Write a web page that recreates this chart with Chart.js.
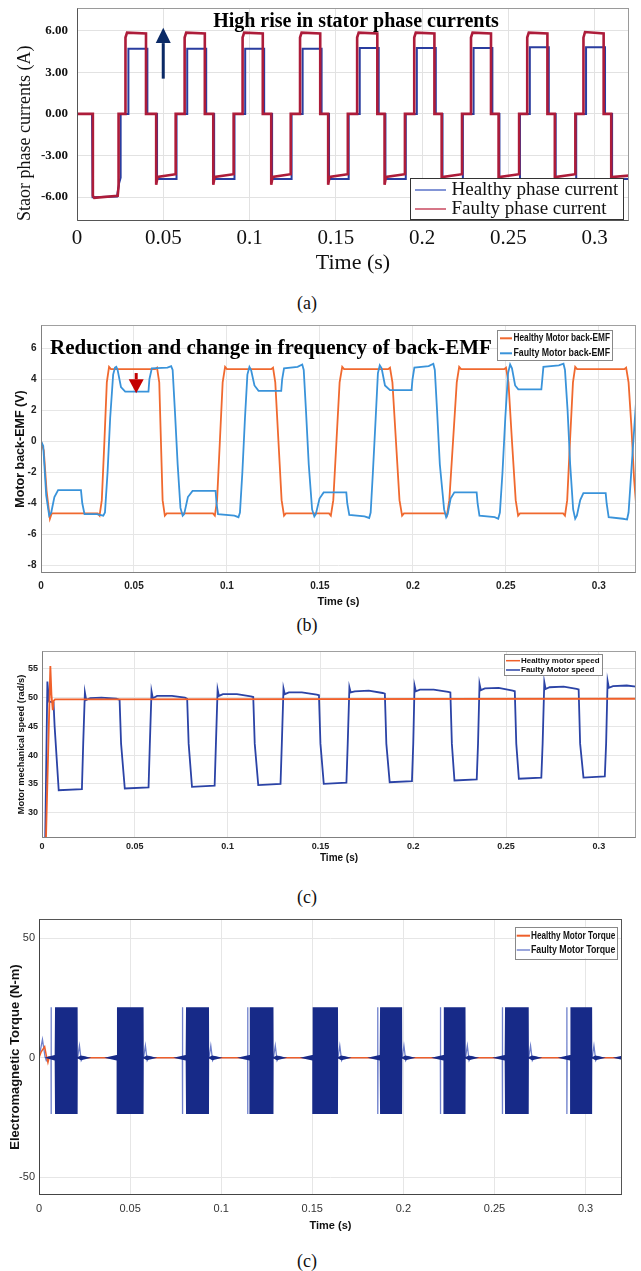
<!DOCTYPE html>
<html>
<head>
<meta charset="utf-8">
<title>Healthy vs faulty motor: current, back-EMF, speed, torque</title>
<script src="https://cdn.jsdelivr.net/npm/chart.js@4.4.1/dist/chart.umd.min.js"></script>
<style>
  html, body { margin: 0; padding: 0; background: #fff; }
  #page { position: relative; width: 641px; height: 1271px; overflow: hidden; background: #fff; }
  #page canvas { position: absolute; left: 0; }
  .caption { position: absolute; left: 267px; width: 80px; text-align: center; line-height: 20px;
             font: 18px 'Liberation Serif', 'Times New Roman', serif; color: #111; }
</style>
</head>
<body>
<div id="page">
  <canvas id="chartA" width="641" height="285" style="top:0px"></canvas>
  <div class="caption" style="top:293px">(a)</div>
  <canvas id="chartB" width="641" height="300" style="top:315px"></canvas>
  <div class="caption" style="top:615px">(b)</div>
  <canvas id="chartC" width="641" height="225" style="top:645px"></canvas>
  <div class="caption" style="top:887px">(c)</div>
  <canvas id="chartD" width="641" height="330" style="top:905px"></canvas>
  <div class="caption" style="top:1251px">(c)</div>
</div>
<script>
// ---------------- Data ----------------

const X_TICKS = [0, 0.05, 0.1, 0.15, 0.2, 0.25, 0.3];
const X_TICK_LABELS = ['0', '0.05', '0.1', '0.15', '0.2', '0.25', '0.3'];

// (a) stator phase currents
const A_SERIES = ['Healthy phase current', 'Faulty phase current'];
const A_Y_TICKS = [-6, -3, 0, 3, 6];
const A_Y_LABELS = ['-6.00', '-3.00', '0.00', '3.00', '6.00'];
const A_TIME_HEALTHY = [0, 0.0087, 0.0087, 0.0092, 0.0092, 0.0232, 0.0244, 0.0253, 0.0253,
  0.0298, 0.0298, 0.0408, 0.0408, 0.0464, 0.0464, 0.0577, 0.0577,
  0.0639, 0.0639, 0.0749, 0.0749, 0.0795, 0.0795, 0.0913, 0.0913,
  0.0975, 0.0975, 0.1085, 0.1085, 0.1131, 0.1131, 0.1244, 0.1244,
  0.1308, 0.1308, 0.1418, 0.1418, 0.1461, 0.1461, 0.1575, 0.1575,
  0.1639, 0.1639, 0.1749, 0.1749, 0.1788, 0.1788, 0.1906, 0.1906,
  0.1970, 0.1970, 0.2080, 0.2080, 0.2119, 0.2119, 0.2237, 0.2237,
  0.2299, 0.2299, 0.2408, 0.2408, 0.2449, 0.2449, 0.2568, 0.2568,
  0.2625, 0.2625, 0.2735, 0.2735, 0.2775, 0.2775, 0.2894, 0.2894,
  0.2951, 0.2951, 0.3061, 0.3061, 0.3102, 0.3102, 0.3200];
const A_CURRENT_HEALTHY = [0, 0, -1.9, -1.9, -6.0, -5.95, -5.0, -4.6, 0,
  0, 4.7, 4.7, 0, 0, -4.7, -4.7, 0,
  0, 4.7, 4.7, 0, 0, -4.7, -4.7, 0,
  0, 4.7, 4.7, 0, 0, -4.7, -4.7, 0,
  0, 4.7, 4.7, 0, 0, -4.7, -4.7, 0,
  0, 4.75, 4.75, 0, 0, -4.7, -4.7, 0,
  0, 4.75, 4.75, 0, 0, -4.7, -4.7, 0,
  0, 4.75, 4.75, 0, 0, -4.7, -4.7, 0,
  0, 4.8, 4.8, 0, 0, -4.7, -4.7, 0,
  0, 4.8, 4.8, 0, 0, -4.7, -4.7];
const A_TIME_FAULTY = [0, 0.0092, 0.0092, 0.0100, 0.0236, 0.0241, 0.0241,
  0.0281, 0.0281, 0.0290, 0.0400, 0.0400, 0.0459, 0.0459, 0.0467, 0.0572, 0.0572,
  0.0624, 0.0624, 0.0633, 0.0741, 0.0741, 0.0790, 0.0790, 0.0798, 0.0908, 0.0908,
  0.0960, 0.0960, 0.0969, 0.1077, 0.1077, 0.1126, 0.1126, 0.1134, 0.1239, 0.1239,
  0.1293, 0.1293, 0.1302, 0.1410, 0.1410, 0.1456, 0.1456, 0.1464, 0.1570, 0.1570,
  0.1624, 0.1624, 0.1633, 0.1741, 0.1741, 0.1783, 0.1783, 0.1791, 0.1901, 0.1901,
  0.1955, 0.1955, 0.1964, 0.2072, 0.2072, 0.2114, 0.2114, 0.2122, 0.2232, 0.2232,
  0.2284, 0.2284, 0.2293, 0.2400, 0.2400, 0.2444, 0.2444, 0.2452, 0.2563, 0.2563,
  0.2610, 0.2610, 0.2619, 0.2727, 0.2727, 0.2770, 0.2770, 0.2778, 0.2889, 0.2889,
  0.2936, 0.2936, 0.2945, 0.3053, 0.3053, 0.3097, 0.3097, 0.3105, 0.3200];
const A_CURRENT_FAULTY = [0, 0, -5.9, -6.05, -5.9, -5.2, 0,
  0, 5.5, 5.85, 5.8, 0, 0, -5.1, -4.55, -4.35, 0,
  0, 5.5, 5.85, 5.8, 0, 0, -5.1, -4.55, -4.35, 0,
  0, 5.5, 5.85, 5.8, 0, 0, -5.1, -4.55, -4.35, 0,
  0, 5.5, 5.85, 5.8, 0, 0, -5.1, -4.55, -4.35, 0,
  0, 5.5, 5.85, 5.8, 0, 0, -5.1, -4.55, -4.35, 0,
  0, 5.5, 5.85, 5.8, 0, 0, -5.1, -4.55, -4.35, 0,
  0, 5.5, 5.85, 5.8, 0, 0, -5.1, -4.55, -4.35, 0,
  0, 5.5, 5.85, 5.8, 0, 0, -5.1, -4.55, -4.35, 0,
  0, 5.5, 5.9, 5.8, 0, 0, -5.1, -4.55, -4.45];

// (b) motor back-EMF
const B_SERIES = ['Healthy Motor back-EMF', 'Faulty Motor back-EMF'];
const B_Y_TICKS = [-8, -6, -4, -2, 0, 2, 4, 6];
const B_TIME_HEALTHY = [0, 0.0015, 0.0030, 0.0048, 0.0058,
  0.0305, 0.0315, 0.0327, 0.0341, 0.0354, 0.0366, 0.0376,
  0.0614, 0.0624, 0.0636, 0.0645, 0.0654, 0.0666, 0.0676,
  0.0925, 0.0935, 0.0947, 0.0962, 0.0977, 0.0990, 0.1000,
  0.1238, 0.1248, 0.1260, 0.1277, 0.1294, 0.1307, 0.1317,
  0.1549, 0.1559, 0.1572, 0.1589, 0.1606, 0.1620, 0.1630,
  0.1867, 0.1877, 0.1890, 0.1909, 0.1928, 0.1942, 0.1952,
  0.2173, 0.2183, 0.2196, 0.2216, 0.2236, 0.2249, 0.2259,
  0.2491, 0.2501, 0.2514, 0.2533, 0.2553, 0.2566, 0.2576,
  0.2808, 0.2818, 0.2830, 0.2845, 0.2861, 0.2873, 0.2883,
  0.3137, 0.3147, 0.3160, 0.3175, 0.3190, 0.3200];
const B_EMF_HEALTHY = [0, -0.6, -3.2, -5.0, -4.65,
  -4.65, -4.8, -3.8, 0, 3.8, 4.8, 4.65,
  4.65, 4.75, 3.8, 0, -3.8, -4.8, -4.65,
  -4.65, -4.8, -3.8, 0, 3.8, 4.8, 4.65,
  4.65, 4.75, 3.8, 0, -3.8, -4.8, -4.65,
  -4.65, -4.8, -3.8, 0, 3.8, 4.8, 4.65,
  4.65, 4.75, 3.8, 0, -3.8, -4.8, -4.65,
  -4.65, -4.8, -3.8, 0, 3.8, 4.8, 4.65,
  4.65, 4.75, 3.8, 0, -3.8, -4.8, -4.65,
  -4.65, -4.8, -3.8, 0, 3.8, 4.8, 4.65,
  4.65, 4.75, 3.8, 1.0, -2.5, -4.0];
const B_TIME_FAULTY = [0, 0.0012, 0.0028, 0.0044, 0.0055, 0.0072, 0.0092, 0.0215, 0.0222, 0.0234,
  0.0300, 0.0335, 0.0344, 0.0358, 0.0372, 0.0388, 0.0398, 0.0405, 0.0412, 0.0430,
  0.0453, 0.0578, 0.0583, 0.0596, 0.0680, 0.0700, 0.0708, 0.0720, 0.0735, 0.0750,
  0.0762, 0.0770, 0.0790, 0.0815, 0.0939, 0.0944, 0.0952, 0.1040, 0.1062, 0.1070,
  0.1083, 0.1097, 0.1110, 0.1121, 0.1130, 0.1148, 0.1170, 0.1292, 0.1297, 0.1307,
  0.1380, 0.1405, 0.1413, 0.1425, 0.1440, 0.1458, 0.1470, 0.1478, 0.1498, 0.1520,
  0.1642, 0.1647, 0.1658, 0.1740, 0.1765, 0.1773, 0.1785, 0.1800, 0.1812, 0.1822,
  0.1832, 0.1850, 0.1877, 0.1993, 0.1998, 0.2008, 0.2085, 0.2110, 0.2118, 0.2130,
  0.2145, 0.2168, 0.2179, 0.2187, 0.2203, 0.2223, 0.2343, 0.2348, 0.2358, 0.2440,
  0.2459, 0.2468, 0.2482, 0.2497, 0.2512, 0.2523, 0.2533, 0.2550, 0.2567, 0.2691,
  0.2696, 0.2702, 0.2785, 0.2810, 0.2818, 0.2832, 0.2846, 0.2862, 0.2873, 0.2882,
  0.2900, 0.2917, 0.3037, 0.3042, 0.3053, 0.3130, 0.3152, 0.3160, 0.3180, 0.3200];
const B_EMF_FAULTY = [0, -0.3, -3.5, -4.8, -4.6, -3.6, -3.15, -3.15, -4.0, -4.7,
  -4.7, -4.8, -4.6, -2.0, 1.5, 4.3, 4.75, 4.8, 4.6, 3.5,
  3.2, 3.2, 4.0, 4.7, 4.75, 4.85, 4.6, 2.0, -1.5, -4.3,
  -4.8, -4.7, -3.6, -3.2, -3.2, -4.0, -4.7, -4.8, -4.9, -4.6,
  -2.0, 1.5, 4.3, 4.8, 4.6, 3.6, 3.25, 3.25, 4.0, 4.7,
  4.8, 4.95, 4.6, 2.0, -1.5, -4.4, -4.85, -4.7, -3.7, -3.3,
  -3.3, -4.0, -4.75, -4.85, -4.95, -4.6, -2.0, 1.5, 4.4, 4.9,
  4.7, 3.6, 3.3, 3.3, 4.0, 4.75, 4.85, 5.0, 4.6, 2.0,
  -1.5, -4.4, -4.9, -4.7, -3.7, -3.3, -3.3, -4.0, -4.8, -4.9,
  -5.0, -4.6, -2.0, 1.5, 4.4, 4.95, 4.7, 3.6, 3.35, 3.35,
  4.0, 4.8, 4.9, 5.0, 4.6, 2.0, -1.5, -4.4, -5.0, -4.8,
  -3.8, -3.35, -3.35, -4.0, -4.9, -5.0, -5.05, -4.6, -1.0, 2.5];

// (c) motor mechanical speed
const C_SERIES = ['Healthy motor speed', 'Faulty Motor speed'];
const C_Y_TICKS = [30, 35, 40, 45, 50, 55];
const C_TIME_HEALTHY = [0.0017, 0.0045, 0.0051, 0.0055, 0.0058, 0.0062, 0.0070, 0.0100, 0.3200];
const C_SPEED_HEALTHY = [20, 55.5, 50.5, 49.0, 47.8, 49.4, 49.7, 49.7, 49.8];
const C_TIME_FAULTY = [0.0015, 0.0029, 0.0038, 0.0062, 0.0068, 0.0090,
  0.0215, 0.0222, 0.0231, 0.0238, 0.0260, 0.0320, 0.0400, 0.0418, 0.0426, 0.0446,
  0.0574, 0.0581, 0.0590, 0.0597, 0.0620, 0.0700, 0.0770, 0.0782, 0.0790, 0.0808,
  0.0930, 0.0937, 0.0946, 0.0953, 0.0975, 0.1050, 0.1125, 0.1138, 0.1146, 0.1165,
  0.1285, 0.1292, 0.1301, 0.1308, 0.1330, 0.1400, 0.1480, 0.1492, 0.1500, 0.1518,
  0.1640, 0.1647, 0.1656, 0.1663, 0.1685, 0.1760, 0.1835, 0.1847, 0.1855, 0.1873,
  0.1993, 0.2000, 0.2007, 0.2014, 0.2036, 0.2110, 0.2188, 0.2200, 0.2208, 0.2222,
  0.2342, 0.2349, 0.2357, 0.2364, 0.2386, 0.2460, 0.2536, 0.2547, 0.2555, 0.2569,
  0.2690, 0.2697, 0.2706, 0.2713, 0.2735, 0.2810, 0.2880, 0.2891, 0.2899, 0.2917,
  0.3032, 0.3039, 0.3047, 0.3054, 0.3076, 0.3150, 0.3200];
const C_SPEED_FAULTY = [20, 52.8, 49.3, 49.2, 45.0, 33.9,
  34.1, 42.0, 50.9, 49.6, 49.9, 50.0, 49.8, 49.6, 42.0, 34.2,
  34.4, 42.0, 51.1, 49.9, 50.3, 50.3, 50.0, 49.8, 42.0, 34.5,
  34.7, 42.0, 51.4, 50.3, 50.6, 50.6, 50.2, 50.1, 42.0, 34.8,
  35.0, 42.0, 51.6, 50.6, 50.9, 50.9, 50.5, 50.4, 42.0, 35.0,
  35.2, 42.0, 51.8, 50.9, 51.1, 51.2, 50.8, 50.7, 42.0, 35.3,
  35.5, 42.0, 52.1, 51.1, 51.4, 51.4, 51.0, 50.9, 42.0, 35.6,
  35.8, 42.0, 52.4, 51.3, 51.6, 51.7, 51.2, 51.1, 42.0, 35.9,
  36.1, 42.0, 52.7, 51.5, 51.8, 51.9, 51.5, 51.4, 42.0, 36.1,
  36.3, 42.0, 52.9, 51.7, 52.0, 52.1, 51.9];

// (d) electromagnetic torque
const D_SERIES = ['Healthy Motor Torque', 'Faulty Motor Torque'];
const D_Y_TICKS = [-50, 0, 50];
const D_TIME_HEALTHY = [0, 0.0012, 0.0031, 0.0040, 0.0049, 0.0056, 0.0075, 0.3200];
const D_TORQUE_HEALTHY = [0, 2.5, 4.6, 1.0, -2.0, 0.3, 0, 0];
// faulty torque trace between the switching bursts (spikes and single strokes)
const D_TIME_FAULTY = [0, 0.0019, 0.0033, 0.0040, 0.0050, 0.0066, 0.0066, 0.0067, 0.0068,
  0.0212, 0.0222, 0.0232, 0.0245, 0.0260,
  0.0574, 0.0584, 0.0594, 0.0607, 0.0622,
  0.0787, 0.0787, 0.0788, 0.0789,
  0.0933, 0.0943, 0.0953, 0.0966, 0.0981,
  0.1145, 0.1145, 0.1146, 0.1147,
  0.1287, 0.1297, 0.1307, 0.1320, 0.1335,
  0.1641, 0.1651, 0.1661, 0.1674, 0.1689,
  0.1859, 0.1859, 0.1860, 0.1861,
  0.1993, 0.2003, 0.2013, 0.2026, 0.2041,
  0.2203, 0.2203, 0.2204, 0.2205,
  0.2341, 0.2351, 0.2361, 0.2374, 0.2389,
  0.2543, 0.2543, 0.2544, 0.2545,
  0.2688, 0.2698, 0.2708, 0.2721, 0.2736,
  0.2897, 0.2897, 0.2898, 0.2899,
  0.3036, 0.3046, 0.3056, 0.3069, 0.3084,
  0.3200];
const D_TORQUE_FAULTY = [0, 7.7, 0.5, -1.2, 0.3, 0, 21.1, -23.5, 0,
  0, 5.0, -1.2, 0.5, 0,
  0, 5.0, -1.2, 0.5, 0,
  0, 21.1, -23.5, 0,
  0, 5.0, -1.2, 0.5, 0,
  0, 21.1, -23.5, 0,
  0, 5.0, -1.2, 0.5, 0,
  0, 5.0, -1.2, 0.5, 0,
  0, 21.1, -23.5, 0,
  0, 5.0, -1.2, 0.5, 0,
  0, 21.1, -23.5, 0,
  0, 5.0, -1.2, 0.5, 0,
  0, 21.1, -23.5, 0,
  0, 5.0, -1.2, 0.5, 0,
  0, 21.1, -23.5, 0,
  0, 5.0, -1.2, 0.5, 0,
  0];
// envelope of the dense torque ripple (upper / lower), same time base
const D_BAND_TIME = [0,
  0.0030, 0.0086, 0.0088, 0.0212, 0.0213, 0.0230, 0.0287,
  0.0358, 0.0426, 0.0428, 0.0574, 0.0575, 0.0592, 0.0649,
  0.0737, 0.0805, 0.0807, 0.0933, 0.0934, 0.0951, 0.1008,
  0.1087, 0.1155, 0.1157, 0.1287, 0.1288, 0.1305, 0.1362,
  0.1432, 0.1500, 0.1502, 0.1641, 0.1642, 0.1659, 0.1716,
  0.1802, 0.1870, 0.1872, 0.1993, 0.1994, 0.2011, 0.2068,
  0.2152, 0.2220, 0.2222, 0.2341, 0.2342, 0.2359, 0.2416,
  0.2488, 0.2556, 0.2558, 0.2688, 0.2689, 0.2706, 0.2763,
  0.2847, 0.2915, 0.2917, 0.3036, 0.3037, 0.3054, 0.3111,
  0.3150, 0.3200];
const D_BAND_UPPER = [0,
  0, 1.1, 21.1, 21.1, 0.3, 0.9, 0,
  0, 1.1, 21.1, 21.1, 0.3, 0.9, 0,
  0, 1.1, 21.1, 21.1, 0.3, 0.9, 0,
  0, 1.1, 21.1, 21.1, 0.3, 0.9, 0,
  0, 1.1, 21.1, 21.1, 0.3, 0.9, 0,
  0, 1.1, 21.1, 21.1, 0.3, 0.9, 0,
  0, 1.1, 21.1, 21.1, 0.3, 0.9, 0,
  0, 1.1, 21.1, 21.1, 0.3, 0.9, 0,
  0, 1.1, 21.1, 21.1, 0.3, 0.9, 0,
  0, 0.8];
const D_BAND_LOWER = [0,
  0, -1.2, -23.5, -23.5, -0.3, -1.1, 0,
  0, -1.2, -23.5, -23.5, -0.3, -1.1, 0,
  0, -1.2, -23.5, -23.5, -0.3, -1.1, 0,
  0, -1.2, -23.5, -23.5, -0.3, -1.1, 0,
  0, -1.2, -23.5, -23.5, -0.3, -1.1, 0,
  0, -1.2, -23.5, -23.5, -0.3, -1.1, 0,
  0, -1.2, -23.5, -23.5, -0.3, -1.1, 0,
  0, -1.2, -23.5, -23.5, -0.3, -1.1, 0,
  0, -1.2, -23.5, -23.5, -0.3, -1.1, 0,
  0, -0.8];

// ---------------- Styling ----------------

const SERIF = "'Liberation Serif', 'Times New Roman', serif";
const SANS = "'Liberation Sans', Arial, sans-serif";

function points(times, values) {
  return times.map((t, i) => ({ x: t, y: values[i] }));
}

function line(label, times, values, color, width, order, extra) {
  return Object.assign({
    label: label,
    data: points(times, values),
    borderColor: color,
    borderWidth: width,
    pointRadius: 0,
    tension: 0,
    fill: false,
    order: order
  }, extra || {});
}

// frame, annotation text, arrow and legend box drawn on top of the plot
const decorPlugin = {
  id: 'decor',
  afterDatasetsDraw(chart, args, opts) {
    const ctx = chart.ctx;
    const a = chart.chartArea;
    const xs = chart.scales.x, ys = chart.scales.y;
    const L = Math.round(a.left) + 0.5, R = Math.round(a.right) - 0.5;
    const T = Math.round(a.top) + 0.5, B = Math.round(a.bottom) - 0.5;
    ctx.save();
    ctx.lineWidth = 1;
    ctx.strokeStyle = opts.frameColor;
    ctx.strokeRect(L, T, R - L, B - T);
    ctx.strokeStyle = opts.axisColor;
    ctx.beginPath();
    ctx.moveTo(L, T); ctx.lineTo(L, B); ctx.lineTo(R, B);
    ctx.stroke();

    if (opts.note) {
      const n = opts.note;
      ctx.font = n.cssFont;
      ctx.fillStyle = n.color;
      ctx.textAlign = n.align;
      ctx.textBaseline = 'middle';
      ctx.fillText(n.text, n.x, n.y);
    }

    if (opts.arrow) {
      const ar = opts.arrow;
      const ax = xs.getPixelForValue(ar.t);
      const y0 = ys.getPixelForValue(ar.from);
      const yb = ys.getPixelForValue(ar.base);
      const yt = ys.getPixelForValue(ar.tip);
      ctx.fillStyle = ar.color;
      ctx.fillRect(ax - ar.shaftWidth / 2, Math.min(y0, yb), ar.shaftWidth, Math.abs(yb - y0));
      ctx.beginPath();
      ctx.moveTo(ax - ar.headWidth / 2, yb);
      ctx.lineTo(ax + ar.headWidth / 2, yb);
      ctx.lineTo(ax, yt);
      ctx.closePath();
      ctx.fill();
    }

    if (opts.legend) {
      const lg = opts.legend;
      ctx.fillStyle = '#fff';
      ctx.fillRect(lg.x, lg.y, lg.w, lg.h);
      ctx.lineWidth = 1;
      ctx.strokeStyle = lg.border;
      ctx.strokeRect(Math.round(lg.x) + 0.5, Math.round(lg.y) + 0.5, Math.round(lg.w), Math.round(lg.h));
      const shown = chart.data.datasets.filter(d => !d.legendHidden);
      const maxW = lg.x + lg.w - lg.textX - 2;
      ctx.font = lg.cssFont;
      ctx.textAlign = 'left';
      ctx.textBaseline = 'middle';
      shown.forEach((d, i) => {
        const y = lg.rows[i];
        ctx.strokeStyle = d.legendColor || d.borderColor;
        ctx.lineWidth = lg.lineWidth;
        ctx.beginPath();
        ctx.moveTo(lg.line[0], y);
        ctx.lineTo(lg.line[1], y);
        ctx.stroke();
        ctx.fillStyle = lg.textColor;
        ctx.fillText(d.label, lg.textX, y, maxW);   // squeezed like the narrow original
      });
    }
    ctx.restore();
  }
};

function buildChart(id, p) {
  const canvas = document.getElementById(id);
  const W = canvas.width, H = canvas.height;
  const area = p.area;
  return new Chart(canvas.getContext('2d'), {
    type: 'line',
    data: { datasets: p.datasets },
    options: {
      responsive: false,
      animation: false,
      events: [],
      layout: { padding: { left: 0, top: area.top, right: W - area.right, bottom: 0 } },
      plugins: {
        legend: { display: false },
        tooltip: { enabled: false },
        decor: p.decor
      },
      scales: {
        x: {
          type: 'linear',
          min: 0,
          max: p.xMax,
          afterBuildTicks: s => { s.ticks = X_TICKS.map(v => ({ value: v })); },
          afterFit: s => { s.height = H - area.bottom; s.paddingLeft = 0; s.paddingRight = 0; },
          grid: { color: p.gridColor, drawTicks: false },
          border: { display: false },
          ticks: {
            autoSkip: false, maxRotation: 0, padding: p.xTickPad,
            font: p.xTickFont, color: p.tickColor,
            callback: (v, i) => X_TICK_LABELS[i]
          },
          title: {
            display: true, text: 'Time (s)', font: p.xTitleFont, color: '#111',
            padding: { top: 0, bottom: p.xTitlePad }
          }
        },
        y: {
          type: 'linear',
          min: p.yMin,
          max: p.yMax,
          afterBuildTicks: s => { s.ticks = p.yTicks.map(v => ({ value: v })); },
          afterFit: s => { s.width = area.left; s.paddingTop = 0; s.paddingBottom = 0; },
          grid: { color: p.gridColor, drawTicks: false },
          border: { display: false },
          ticks: {
            autoSkip: false, padding: p.yTickPad,
            font: p.yTickFont, color: p.tickColor,
            callback: (v, i) => (p.yLabels ? p.yLabels[i] : String(v))
          },
          title: {
            display: true, text: p.yTitle, font: p.yTitleFont, color: '#111',
            align: p.yTitleAlign || 'center',
            padding: { top: p.yTitlePad, bottom: 0 }
          }
        }
      }
    },
    plugins: [decorPlugin]
  });
}

// ---------------- Panels ----------------

buildChart('chartA', {
  area: { left: 77, right: 629, top: 8, bottom: 221 },
  xMax: 0.32, yMin: -7.72, yMax: 7.63,
  yTicks: A_Y_TICKS, yLabels: A_Y_LABELS,
  gridColor: '#e2e2e2', tickColor: '#111',
  xTickFont: { family: SERIF, size: 21 }, xTickPad: 5,
  yTickFont: { family: SERIF, size: 13, weight: 'bold' }, yTickPad: 9,
  xTitleFont: { family: SERIF, size: 22 }, xTitlePad: 8.8,
  yTitle: 'Staor phase currents (A)', yTitleFont: { family: SERIF, size: 18 },
  yTitlePad: 14.7, yTitleAlign: 'start',
  datasets: [
    line(A_SERIES[0], A_TIME_HEALTHY, A_CURRENT_HEALTHY, '#2a3d9f', 2, 1, { legendColor: '#5a72c8' }),
    line(A_SERIES[1], A_TIME_FAULTY, A_CURRENT_FAULTY, '#ad1c3a', 2.6, 0, { legendColor: '#c9485f' })
  ],
  decor: {
    frameColor: '#9a9a9a', axisColor: '#555',
    note: { text: 'High rise in stator phase currents', x: 356, y: 22, align: 'center',
            cssFont: 'bold 20px ' + SERIF, color: '#000' },
    arrow: { t: 0.05, from: 2.54, base: 5.1, tip: 6.2, color: '#0b2a66', headWidth: 15, shaftWidth: 3 },
    legend: { x: 410, y: 178, w: 213, h: 41, rows: [190, 209], line: [415, 446], textX: 451.5,
              cssFont: '19px ' + SERIF, border: '#333', lineWidth: 1.5, textColor: '#111' }
  }
});

buildChart('chartB', {
  area: { left: 41, right: 636, top: 10, bottom: 258 },
  xMax: 0.32, yMin: -8.5, yMax: 7.5,
  yTicks: B_Y_TICKS,
  gridColor: '#e6e6e6', tickColor: '#222',
  xTickFont: { family: SANS, size: 10, weight: 'bold' }, xTickPad: 7,
  yTickFont: { family: SANS, size: 10, weight: 'bold' }, yTickPad: 4.5,
  xTitleFont: { family: SANS, size: 11, weight: 'bold' }, xTitlePad: 6,
  yTitle: 'Motor back-EMF (V)', yTitleFont: { family: SANS, size: 12.5, weight: 'bold' }, yTitlePad: 13,
  datasets: [
    line(B_SERIES[0], B_TIME_HEALTHY, B_EMF_HEALTHY, '#f0692f', 1.8, 1),
    line(B_SERIES[1], B_TIME_FAULTY, B_EMF_FAULTY, '#3993da', 1.8, 0)
  ],
  decor: {
    frameColor: '#a0a0a0', axisColor: '#808080',
    note: { text: 'Reduction and change in frequency of back-EMF', x: 50, y: 34, align: 'left',
            cssFont: 'bold 21px ' + SERIF, color: '#000' },
    arrow: { t: 0.0512, from: 4.4, base: 4.0, tip: 3.1, color: '#c40000', headWidth: 15, shaftWidth: 3 },
    legend: { x: 497, y: 15, w: 115, h: 30, rows: [23.3, 38.3], line: [500, 512], textX: 513.5,
              cssFont: 'bold 10.5px ' + SANS, border: '#888', lineWidth: 2, textColor: '#111' }
  }
});

buildChart('chartC', {
  area: { left: 42, right: 636, top: 6, bottom: 193 },
  xMax: 0.32, yMin: 25.6, yMax: 58.1,
  yTicks: C_Y_TICKS,
  gridColor: '#e6e6e6', tickColor: '#222',
  xTickFont: { family: SANS, size: 9, weight: 'bold' }, xTickPad: 3.3,
  yTickFont: { family: SANS, size: 9, weight: 'bold' }, yTickPad: 4,
  xTitleFont: { family: SANS, size: 10, weight: 'bold' }, xTitlePad: 5.7,
  yTitle: 'Motor mechanical speed (rad/s)', yTitleFont: { family: SANS, size: 9.3, weight: 'bold' }, yTitlePad: 16,
  datasets: [
    line(C_SERIES[0], C_TIME_HEALTHY, C_SPEED_HEALTHY, '#f0602a', 1.8, 0),
    line(C_SERIES[1], C_TIME_FAULTY, C_SPEED_FAULTY, '#2b43a6', 1.8, 1)
  ],
  decor: {
    frameColor: '#a0a0a0', axisColor: '#808080',
    legend: { x: 503.5, y: 9.3, w: 98, h: 21.4, rows: [15.7, 25], line: [506, 520], textX: 521,
              cssFont: 'bold 8px ' + SANS, border: '#888', lineWidth: 1.5, textColor: '#111' }
  }
});

buildChart('chartD', {
  area: { left: 39, right: 622, top: 14, bottom: 290 },
  xMax: 0.32, yMin: -57.4, yMax: 58,
  yTicks: D_Y_TICKS,
  gridColor: '#e6e6e6', tickColor: '#333',
  xTickFont: { family: SANS, size: 11 }, xTickPad: 7.5,
  yTickFont: { family: SANS, size: 11 }, yTickPad: 4,
  xTitleFont: { family: SANS, size: 11, weight: 'bold' }, xTitlePad: 2.6,
  yTitle: 'Electromagnetic Torque (N-m)', yTitleFont: { family: SANS, size: 13, weight: 'bold' }, yTitlePad: 7.2,
  datasets: [
    line(D_SERIES[0], D_TIME_HEALTHY, D_TORQUE_HEALTHY, '#ee5f2a', 1.5, 1),
    line(D_SERIES[1], D_TIME_FAULTY, D_TORQUE_FAULTY, '#6f80cc', 1.3, 2, { legendColor: '#9aa6dc' }),
    line('ripple upper', D_BAND_TIME, D_BAND_UPPER, 'rgba(0,0,0,0)', 1, 0,
         { fill: '+1', backgroundColor: '#172a88', legendHidden: true }),
    line('ripple lower', D_BAND_TIME, D_BAND_LOWER, 'rgba(0,0,0,0)', 1, 3, { legendHidden: true })
  ],
  decor: {
    frameColor: '#555', axisColor: '#444',
    legend: { x: 515, y: 21.7, w: 102.3, h: 31.6, rows: [30.7, 45], line: [516.7, 530], textX: 531,
              cssFont: 'bold 10.5px ' + SANS, border: '#888', lineWidth: 2, textColor: '#111' }
  }
});
</script>
</body>
</html>
